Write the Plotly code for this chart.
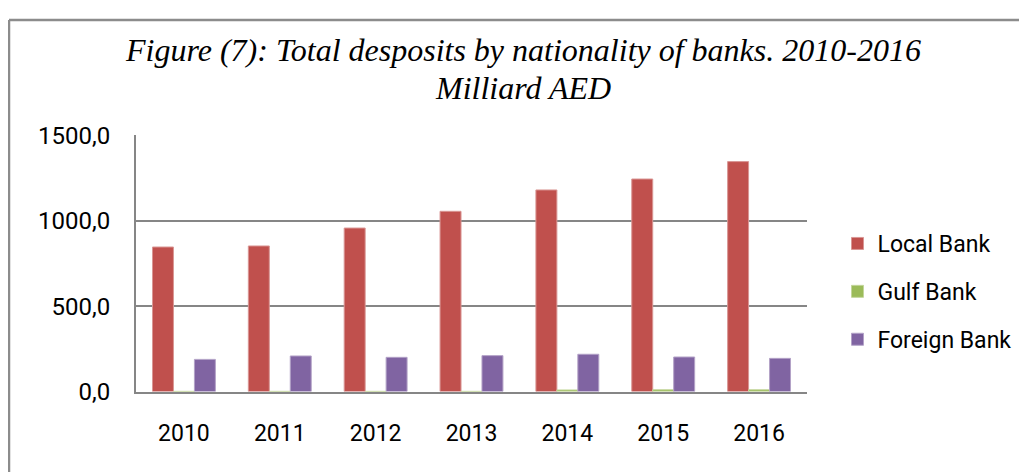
import plotly.graph_objects as go

years = ["2010", "2011", "2012", "2013", "2014", "2015", "2016"]
local_bank = [846, 852, 957, 1055, 1180, 1244, 1346]
gulf_bank = [1, 1, 1, 1, 9, 10, 10]
foreign_bank = [188, 208, 200, 210, 218, 202, 194]
y_ticks = [0, 500, 1000, 1500]

W, H = 1027, 472
OFF = 8  # page body margin
def px(x):
    return (x - OFF) / W
def py(y):
    return 1 - (y - OFF) / H

TICK_FONT = dict(family="Roboto, sans-serif", size=23, color="#000000")
YTICK_FONT = dict(family="Roboto, sans-serif", size=24, color="#000000")

fig = go.Figure()
series = [
    ("Local Bank", local_bank, "#C0504D", "#D99694"),
    ("Gulf Bank", gulf_bank, "#9BBB59", "#C3D69B"),
    ("Foreign Bank", foreign_bank, "#8064A2", "#B3A2C7"),
]
for name, vals, col, edge in series:
    fig.add_trace(go.Bar(
        x=years, y=vals, name=name, legendgroup=name,
        marker=dict(color=col, line=dict(color=edge, width=1)),
    ))

fig.update_layout(
    width=W, height=H,
    margin=dict(l=0, r=0, t=0, b=0, autoexpand=False),
    paper_bgcolor="white", plot_bgcolor="white",
    barmode="group", bargap=0.344, bargroupgap=0,
    separators=", ",
    showlegend=True,
    legend=dict(
        x=px(837.5), y=py(222), xanchor="left", yanchor="top",
        font=TICK_FONT, tracegroupgap=15, bgcolor="rgba(0,0,0,0)",
    ),
    xaxis=dict(
        domain=[px(136), px(807)],
        showline=True, linecolor="#868686", linewidth=2,
        showgrid=False, ticks="", tickfont=TICK_FONT,
        ticklabelstandoff=20,
    ),
    yaxis=dict(
        domain=[py(391.5), py(135.3)],
        range=[0, 1500], tickvals=y_ticks, tickformat=".1f",
        showline=True, linecolor="#868686", linewidth=2,
        showgrid=True, gridcolor="#868686", gridwidth=2,
        zeroline=False, ticks="", tickfont=YTICK_FONT,
        ticklabelstandoff=19,
    ),
    shapes=[
        dict(type="line", xref="paper", yref="paper",
             x0=px(9), x1=1, y0=py(20), y1=py(20),
             line=dict(color="#8C8C8C", width=2.5)),
        dict(type="line", xref="paper", yref="paper",
             x0=px(9), x1=px(9), y0=py(20), y1=0,
             line=dict(color="#8C8C8C", width=2.5)),
    ],
    annotations=[
        dict(text="<i>Figure (7): Total desposits by nationality of banks. 2010-2016</i>",
             x=px(523), y=py(50), xref="paper", yref="paper",
             xanchor="center", yanchor="middle", showarrow=False,
             font=dict(family="Liberation Serif, Times New Roman, serif", size=32, color="#000000")),
        dict(text="<i>Milliard AED</i>",
             x=px(523), y=py(88), xref="paper", yref="paper",
             xanchor="center", yanchor="middle", showarrow=False,
             font=dict(family="Liberation Serif, Times New Roman, serif", size=32, color="#000000")),
    ],
)

fig.write_html("out.html")
